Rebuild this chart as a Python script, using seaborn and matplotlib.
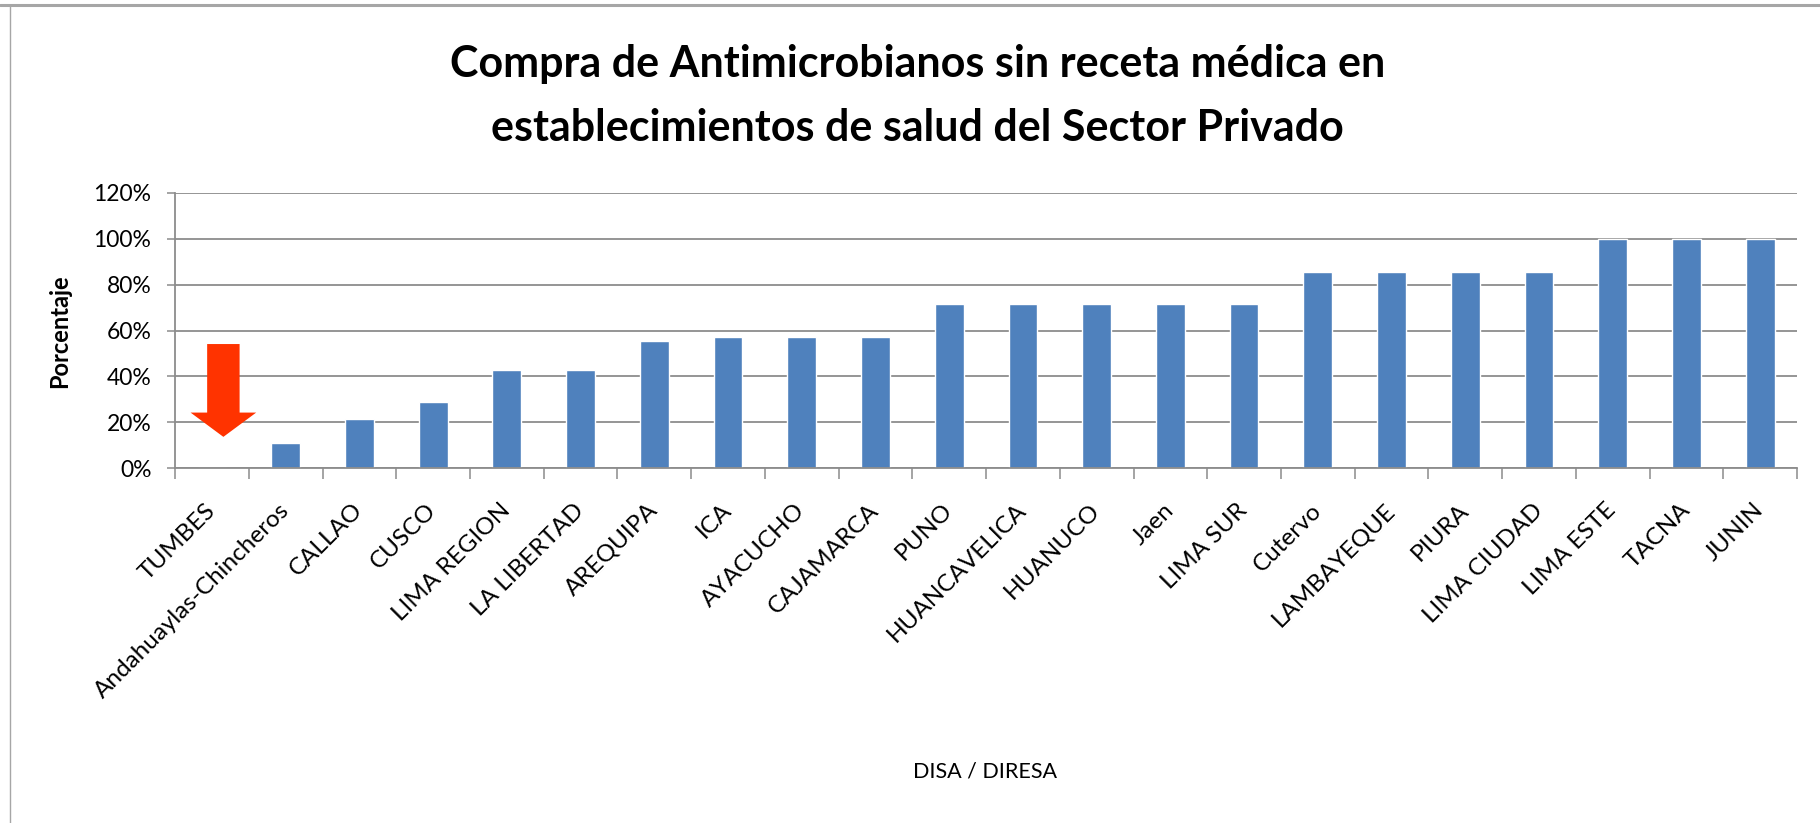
import matplotlib
matplotlib.use("Agg")
import matplotlib.pyplot as plt
import matplotlib.ticker as mtick
from matplotlib.patches import FancyArrow
from matplotlib.lines import Line2D
import seaborn as sns

# ---- data (percent) ----
regions = ["TUMBES", "Andahuaylas-Chincheros", "CALLAO", "CUSCO", "LIMA REGION",
           "LA LIBERTAD", "AREQUIPA", "ICA", "AYACUCHO", "CAJAMARCA", "PUNO",
           "HUANCAVELICA", "HUANUCO", "Jaen", "LIMA SUR", "Cutervo", "LAMBAYEQUE",
           "PIURA", "LIMA CIUDAD", "LIMA ESTE", "TACNA", "JUNIN"]
pct = [0.0, 11.1, 21.4, 28.6, 42.9, 42.9, 55.6, 57.1, 57.1, 57.1, 71.4,
       71.4, 71.4, 71.4, 71.4, 85.7, 85.7, 85.7, 85.7, 100.0, 100.0, 100.0]
yticks = [0, 20, 40, 60, 80, 100, 120]

BAR = "#4F81BD"
GRID = "#8C8C8C"
FONT = ["Lato", "DejaVu Sans"]

sns.set_style("white")
plt.rcParams["font.family"] = FONT
plt.rcParams["text.color"] = "black"

fig = plt.figure(figsize=(18.2, 8.23), dpi=100)
ax = fig.add_axes([0.0962, 0.4313, 0.8912, 0.3342])

sns.barplot(x=regions, y=pct, color=BAR, saturation=1, width=0.39, ax=ax)

ax.set_ylim(0, 120)
ax.set_yticks(yticks)
ax.yaxis.set_major_formatter(mtick.PercentFormatter(decimals=0))
ax.yaxis.grid(True, color=GRID, linewidth=1.3)
ax.set_axisbelow(True)

for s in ["top", "right"]:
    ax.spines[s].set_visible(False)
for s in ["left", "bottom"]:
    ax.spines[s].set_color(GRID)
    ax.spines[s].set_linewidth(1.3)

ax.tick_params(axis="y", left=True, length=6, width=1.1, color=GRID,
               labelsize=16.5, pad=11, labelcolor="black")
# category boundary ticks (Excel style)
ax.set_xticks([i - 0.5 for i in range(len(regions) + 1)], minor=True)
ax.tick_params(axis="x", which="minor", bottom=True, length=8, width=1.1, color=GRID)
ax.tick_params(axis="x", which="major", bottom=False, length=0, pad=28,
               labelsize=17.5, labelcolor="black")
for lab in ax.get_xticklabels():
    lab.set_rotation(45)
    lab.set_ha("right")
    lab.set_va("center")
    lab.set_rotation_mode("anchor")

ax.set_xlabel("")
ax.set_ylabel("")

# red arrow pointing at TUMBES (0%)
ax.add_patch(FancyArrow(0.155, 54.1, 0, -40.5, width=0.44, head_width=0.89,
                        head_length=10.6, length_includes_head=True,
                        color="#FF3300", linewidth=0))

fig.text(0.504, 0.922, "Compra de Antimicrobianos sin receta médica en",
         ha="center", va="center", fontsize=31, fontweight="bold")
fig.text(0.504, 0.845, "establecimientos de salud del Sector Privado",
         ha="center", va="center", fontsize=31, fontweight="bold")
fig.text(0.033, 0.598, "Porcentaje", rotation=90, ha="center", va="center",
         fontsize=17, fontweight="bold")
fig.text(0.541, 0.062, "DISA / DIRESA", ha="center", va="center", fontsize=15.5)

# chart frame
fig.add_artist(Line2D([0, 1], [0.9939, 0.9939], transform=fig.transFigure,
                      color="#A6A6A6", linewidth=2.2))
fig.add_artist(Line2D([0.0055, 0.0055], [0, 0.994], transform=fig.transFigure,
                      color="#A6A6A6", linewidth=1.0))

fig.savefig("out.png", dpi=100)
